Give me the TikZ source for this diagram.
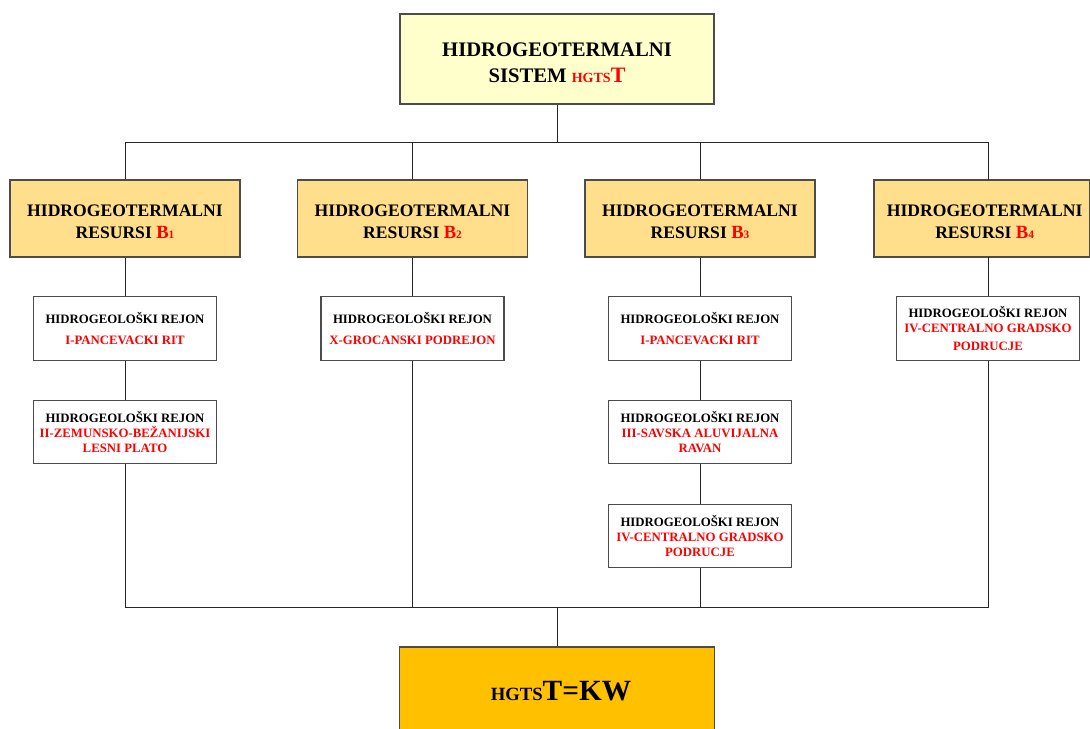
\documentclass[tikz,border=0pt]{standalone}
\usepackage{fontspec}
\setmainfont{Liberation Serif}
\definecolor{topfill}{HTML}{FFFFCC}
\definecolor{resfill}{HTML}{FFDE8C}
\definecolor{botfill}{HTML}{FFC000}
\definecolor{redtxt}{HTML}{FF0000}
\newcommand{\Bsub}[1]{{\color{redtxt}\fontsize{14}{14}\selectfont B\fontsize{8.5}{8}\selectfont #1}}
\begin{document}
\begin{tikzpicture}[x=0.75pt,y=-0.75pt,
  box/.style={draw=black!70, line width=0.9pt, inner sep=0pt, align=center},
  txt/.style={inner sep=0pt, align=center},
  topbox/.style={box, fill=topfill, minimum width=235.5pt, minimum height=67.5pt},
  toptxt/.style={txt, font=\bfseries\fontsize{15.5}{19.5}\selectfont},
  resbox/.style={box, fill=resfill, minimum width=172.5pt, minimum height=57.75pt},
  restxt/.style={txt, font=\bfseries\fontsize{13.2}{17}\selectfont},
  regbox/.style={box, fill=white, minimum width=137.25pt, minimum height=47.5pt, font=\bfseries\fontsize{9.6}{11.6}\selectfont},
  botbox/.style={box, fill=botfill, minimum width=236.25pt, minimum height=66pt, font=\bfseries},
  link/.style={draw=black!85, line width=0.75pt}]
\useasboundingbox (0,0) rectangle (1090,729);

% top
\node[topbox] (sys) at (557,59) {};
\node[toptxt] (systxt) at ([yshift=-2.5pt]sys.center) {HIDROGEOTERMALNI\\SISTEM {\color{redtxt}\fontsize{10.5}{10}\selectfont HGTS\fontsize{16.5}{16}\selectfont T}};

% level 2
\node[resbox] (b1) at (125,218.5) {};
\node[resbox] (b2) at (412.5,218.5) {};
\node[resbox] (b3) at (700,218.5) {};
\node[resbox, minimum width=162pt] (b4) at (982,218.5) {};
\node[restxt] (b1t) at ([yshift=-2.5pt]b1.center) {HIDROGEOTERMALNI\\RESURSI \Bsub{1}};
\node[restxt] (b2t) at ([yshift=-2.5pt]b2.center) {HIDROGEOTERMALNI\\RESURSI \Bsub{2}};
\node[restxt] (b3t) at ([yshift=-2.5pt]b3.center) {HIDROGEOTERMALNI\\RESURSI \Bsub{3}};
\node[restxt] (b4t) at ([xshift=2pt,yshift=-2.5pt]b4.center) {HIDROGEOTERMALNI\\RESURSI \Bsub{4}};
\coordinate (c4t) at (988,180);
\coordinate (c4b) at (988,257);

% regions
\node[regbox] (r11) at (125,328.5) {HIDROGEOLOŠKI REJON\\[3.5pt]{\color{redtxt}I-PANCEVACKI RIT}};
\node[regbox] (r12) at (125,432) {HIDROGEOLOŠKI REJON\\{\color{redtxt}II-ZEMUNSKO-BEŽANIJSKI}\\{\color{redtxt}LESNI PLATO}};
\node[regbox] (r21) at (412.5,328.5) {HIDROGEOLOŠKI REJON\\[3.5pt]{\color{redtxt}X-GROCANSKI PODREJON}};
\node[regbox] (r31) at (700,328.5) {HIDROGEOLOŠKI REJON\\[3.5pt]{\color{redtxt}I-PANCEVACKI RIT}};
\node[regbox] (r32) at (700,432) {HIDROGEOLOŠKI REJON\\{\color{redtxt}III-SAVSKA ALUVIJALNA}\\{\color{redtxt}RAVAN}};
\node[regbox] (r33) at (700,536) {HIDROGEOLOŠKI REJON\\{\color{redtxt}IV-CENTRALNO GRADSKO}\\{\color{redtxt}PODRUCJE}};
\node[regbox] (r41) at (988,328.5) {HIDROGEOLOŠKI REJON\\{\color{redtxt}IV-CENTRALNO GRADSKO}\\[2pt]{\color{redtxt}PODRUCJE}};

% bottom
\node[botbox] (res) at (557,691) {};
\node[txt, font=\bfseries] (restx) at ([xshift=3pt]res.center) {{\fontsize{14}{14}\selectfont HGTS}{\fontsize{22}{22}\selectfont T=KW}};

% buses
\coordinate (bt) at (557,142);
\coordinate (bb) at (557,607);

\draw[link] (sys.south) -- (bt);
\draw[link] (b1.north) |- (bt);
\draw[link] (b2.north) |- (bt);
\draw[link] (b3.north) |- (bt);
\draw[link] (c4t) |- (bt);

\draw[link] (b1.south) -- (r11.north);
\draw[link] (r11.south) -- (r12.north);
\draw[link] (r12.south) |- (bb);
\draw[link] (b2.south) -- (r21.north);
\draw[link] (r21.south) |- (bb);
\draw[link] (b3.south) -- (r31.north);
\draw[link] (r31.south) -- (r32.north);
\draw[link] (r32.south) -- (r33.north);
\draw[link] (r33.south) |- (bb);
\draw[link] (c4b) -- (r41.north);
\draw[link] (r41.south) |- (bb);
\draw[link] (bb) -- (res.north);
\end{tikzpicture}
\end{document}
